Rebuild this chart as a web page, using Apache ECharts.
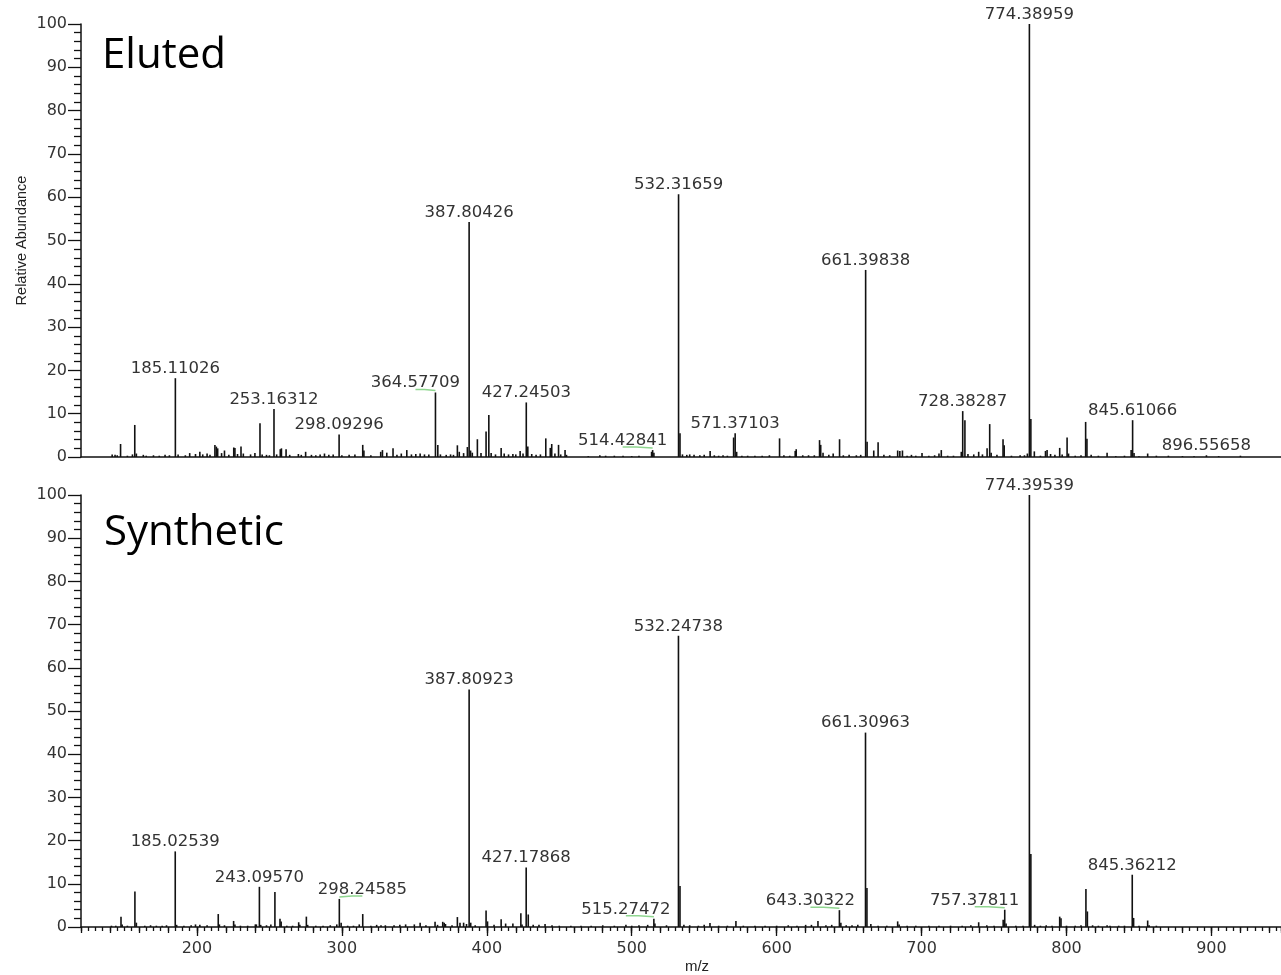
<!DOCTYPE html>
<html>
<head>
<meta charset="utf-8">
<script src="https://cdn.jsdelivr.net/npm/echarts@6/dist/echarts.min.js"></script>
<style>
html,body{margin:0;padding:0;background:#fff;}
#chart{width:1281px;height:975px;}
</style>
</head>
<body>
<div id="chart"></div>
<script>
// ---------------- DATA ----------------
const panelTitles = ['Eluted', 'Synthetic'];
const xTickLabels = [200, 300, 400, 500, 600, 700, 800, 900];
const yTickLabels = [0, 10, 20, 30, 40, 50, 60, 70, 80, 90, 100];

const elutedMz = [141.5,143.5,145,147.3,152,155.5,157.1,158.2,163,165,170,174,178,181,185.11026,187,192,195,199,202,204,207,209,212.4,213.4,214.3,217,219,222,225.4,226.2,228,230.4,232,237,240,243.5,245,248,250,253.16312,255,257.5,258.3,261.5,264,270,272,275,279,282,285,288,291,294,298.09296,300,305,309,314.4,315.2,320,326.8,328,331,335.3,338,341,344.8,348,351,354,357,360,364.57709,366.2,368,372,375,377,379.7,381,384,386.6,387.80426,388.8,390,393.5,396,399.5,401.4,403,406,409.9,412,415,418,420,423,425,427.24503,428.3,431,434,437,440.7,443.8,444.8,447,449.5,451,454,455,470,478,482,488,494,500,505,513.7,514.42841,515.3,532.31659,533.3,535,538,540,543,547,550,554.1,557,560,563,566,570.3,571.37103,572.4,576,580,585,590,595,602,605,609,612.8,613.5,618,622,626,629.6,630.4,632,636,639,643.4,646,650,655,658,661.39838,662.4,667,670,674,678,683.5,685,686.8,690,693,696,700.3,705,709,712,713.6,718,722,727.4,728.38287,729.9,732,736,739.4,742,745.2,747,748,752,756.2,757,762,768,771,773,774.38959,775.4,777.8,782,785.5,786.6,789,792,795.3,797,800.4,801.4,806,810,813.2,814.1,817,822,828,834,840,844.6,845.61066,846.6,850,856,862,870.3,880,888,896.55658,905,920];
const elutedInt = [0.6,0.5,0.4,3.0,0.3,0.6,7.4,0.8,0.5,0.3,0.4,0.3,0.5,0.4,18.2,0.6,0.4,0.9,0.7,1.2,0.6,0.8,0.5,2.8,2.4,2.0,0.9,1.5,0.5,2.2,2.1,0.7,2.4,0.8,0.6,0.9,7.8,0.6,0.5,0.4,11.1,0.6,1.8,2.0,1.8,0.5,0.7,0.5,1.2,0.5,0.4,0.6,0.8,0.5,0.6,5.2,0.4,0.5,0.6,2.8,1.5,0.4,1.2,1.6,1.0,2.0,0.5,0.8,1.6,0.6,0.7,0.8,0.6,0.6,14.9,2.8,0.6,0.5,0.6,0.5,2.7,1.2,0.9,2.3,54.3,1.5,1.0,4.1,0.9,5.9,9.7,0.9,0.6,2.1,0.8,0.6,0.7,0.6,1.4,0.8,12.6,2.4,0.7,0.5,0.6,4.3,2.1,3.0,0.8,2.8,0.6,1.6,0.5,0.2,0.4,0.3,0.3,0.3,0.2,0.3,1.2,1.6,1.0,60.7,5.5,0.6,0.5,0.6,0.5,0.4,0.5,1.4,0.4,0.3,0.4,0.3,4.5,5.5,1.2,0.3,0.3,0.3,0.3,0.4,4.3,0.4,0.3,1.4,1.8,0.4,0.4,0.4,3.9,2.8,1.0,0.5,0.8,4.1,0.4,0.5,0.4,0.5,43.2,3.5,1.5,3.4,0.5,0.4,1.5,1.4,1.5,0.3,0.5,0.3,0.9,0.3,0.4,0.8,1.6,0.3,0.3,1.2,10.6,8.5,0.7,0.6,1.2,0.6,2.0,7.6,1.0,0.5,4.1,2.7,0.3,0.4,0.4,0.8,100,8.8,1.3,0.3,1.4,1.6,0.7,0.5,2.1,0.6,4.5,0.8,0.3,0.4,8.1,4.2,0.5,0.3,1.0,0.2,0.3,1.6,8.5,0.9,0.2,0.8,0.3,0.3,0.2,0.2,0.4,0.2,0.3];
const elutedLabels = ['185.11026','253.16312','298.09296','364.57709','387.80426','427.24503','514.42841','532.31659','571.37103','661.39838','728.38287','774.38959','845.61066','896.55658'];

const synthMz = [141,144,147.6,148.4,152,157.2,158.2,164,168,172,176,179,185.02539,186,191,196,199,202,207,214.7,215.5,219,225.3,226.2,230,235,240.3,241,243.0957,244,248,251,253.8,257.3,258.1,262,266,270.2,271,275.5,276.4,282,287,292,296.5,298.24585,299.5,304,308,312,314.4,320,324,327,330,336,340,344,350,354,358,364.3,366,369.6,370.6,371.5,376,379.7,381.5,384,386,387.80923,388.9,392,399.5,400.5,405,409.9,413,418,423.5,424.3,427.17868,428.6,432,436,440.2,445,450,458,465,472,480,488,496,500,505,511,515.27472,516,524,532.24738,533.3,536,540,546,550,554,560,566,571.9,577,585,592,600,608,614,620,624,628.5,634,638,643.30322,644.3,648,652,656,661.30963,662.3,665,670,676,683.5,684.5,690,696,705,712,720,728,734,739.4,745,750,756.3,757.37811,758.3,765,770,774.39539,775.4,778,782,786,790,795.3,796.2,800,806,810,813.4,814.4,818,822,828,830,836,840,845.36212,846.3,850,856,857,862];
const synthInt = [0.3,0.3,2.4,0.6,0.3,8.2,1.0,0.3,0.4,0.3,0.3,0.4,17.5,0.5,0.3,0.4,0.6,0.5,0.4,3.0,0.6,0.4,1.4,0.6,0.3,0.3,0.6,0.6,9.3,0.5,0.4,0.6,8.1,1.9,1.3,0.3,0.3,1.1,0.5,2.4,0.5,0.3,0.3,0.4,0.6,6.5,1.0,0.3,0.3,0.6,3.0,0.3,0.5,0.4,0.4,0.4,0.5,0.6,0.6,1.0,0.4,1.2,0.5,1.2,1.0,0.7,0.4,2.3,1.0,1.0,0.7,55,1.0,0.4,3.8,1.3,0.5,1.8,0.8,0.8,3.2,0.6,13.8,2.9,0.5,0.5,0.7,0.4,0.3,0.3,0.3,0.3,0.4,0.3,0.5,0.3,0.4,0.5,1.9,0.8,0.4,67.4,9.5,0.5,0.4,0.3,0.5,0.9,0.3,0.3,1.4,0.3,0.3,0.3,0.3,0.4,0.3,0.5,0.5,1.4,0.4,0.5,3.9,1.0,0.4,0.4,0.5,45,9.0,0.7,0.3,0.3,1.3,0.6,0.3,0.3,0.3,0.3,0.3,0.3,0.4,1.1,0.4,0.3,1.7,4.0,0.8,0.3,0.3,100,16.9,0.5,0.3,0.4,0.3,2.4,2.0,0.3,0.3,0.4,8.8,3.6,0.4,0.3,0.4,0.3,0.3,0.3,12.1,2.1,0.3,1.5,0.4,0.3];
const synthLabels = ['185.02539','243.09570','298.24585','387.80923','427.17868','515.27472','532.24738','643.30322','661.30963','757.37811','774.39539','845.36212'];

// ---------------- STYLE ----------------
// horizontal label shift (px) for labels that sit beside their peak, joined by a green leader
const labelShift = {'364.57709': -20, '514.42841': -30, '298.24585': 23, '515.27472': -28, '643.30322': -29, '757.37811': -30};
const tickFont = 'DejaVu Sans';
const textColor = '#333';
const X_MIN = 120, X_MAX = 948;

function buildData(mz, inten, labels) {
  return mz.map((m, i) => {
    const lab = labels.find(l => Math.abs(parseFloat(l) - m) < 1e-6) || '';
    return [m, inten[i], lab];
  });
}

function renderPeak(params, api, labelsList) {
  const m = api.value(0), h = api.value(1);
  const lab = labelsList[params.dataIndex];
  const p0 = api.coord([m, 0]);
  const p1 = api.coord([m, h]);
  const children = [{
    type: 'line',
    shape: {x1: p0[0], y1: p0[1], x2: p1[0], y2: p1[1]},
    style: {stroke: '#111', lineWidth: 1.6}
  }];
  if (lab) {
    const dx = labelShift[lab] || 0;
    if (dx) {
      children.push({
        type: 'polyline',
        shape: {points: [[p1[0], p1[1] - 2], [p1[0] + dx * 0.55, p1[1] - 3], [p1[0] + dx, p1[1] - 3]]},
        style: {stroke: '#8fd68f', lineWidth: 1.5, fill: null}
      });
    }
    children.push({
      type: 'text',
      x: p1[0] + dx, y: p1[1] - 1,
      style: {text: lab, fill: textColor, font: '16.5px "' + tickFont + '"', align: 'center', verticalAlign: 'bottom'}
    });
  }
  return {type: 'group', children: children};
}

function makeSeries(data, idx) {
  const labelsList = data.map(d => d[2]);
  return {
    type: 'custom',
    xAxisIndex: idx === 0 ? 0 : 1,
    yAxisIndex: idx,
    clip: false,
    data: data.map(d => [d[0], d[1]]),
    renderItem: function (params, api) {
      return renderPeak(params, api, labelsList);
    },
    silent: true,
    animation: false
  };
}

const elutedData = buildData(elutedMz, elutedInt, elutedLabels);
const synthData = buildData(synthMz, synthInt, synthLabels);

const axisLineStyle = {show: true, lineStyle: {color: '#111', width: 1.5}};

function yAxisFor(gridIndex, withName) {
  const ax = {
    type: 'value', gridIndex: gridIndex, min: 0, max: 100, interval: 10,
    axisLine: axisLineStyle,
    axisTick: {show: true, length: 13, lineStyle: {color: '#111', width: 1.3}},
    minorTick: {show: true, splitNumber: 5, length: 7, lineStyle: {color: '#111', width: 1.3}},
    splitLine: {show: false}, minorSplitLine: {show: false},
    axisLabel: {
      margin: 14, color: textColor, fontFamily: tickFont, fontSize: 16,
      customValues: yTickLabels
    }
  };
  if (withName) {
    ax.name = 'Relative Abundance';
    ax.nameLocation = 'middle';
    ax.nameGap = 52;
    ax.nameMoveOverlap = false;
    ax.nameRotate = 90;
    ax.nameTextStyle = {fontFamily: 'Liberation Sans', fontSize: 14.5, color: '#222'};
  }
  return ax;
}

const option = {
  backgroundColor: '#fff',
  animation: false,
  title: [
    {text: panelTitles[0], left: 97, top: 30, textStyle: {fontFamily: 'Open Sans', fontSize: 42, fontWeight: 'normal', color: '#000'}},
    {text: panelTitles[1], left: 99, top: 507, textStyle: {fontFamily: 'Open Sans', fontSize: 42, fontWeight: 'normal', color: '#000'}}
  ],
  grid: [
    {left: 81, right: 0, top: 24, height: 433},
    {left: 81, right: 0, top: 495, height: 433}
  ],
  xAxis: [
    {type: 'value', gridIndex: 0, min: X_MIN, max: X_MAX, axisLine: axisLineStyle,
      axisTick: {show: false}, axisLabel: {show: false}, splitLine: {show: false}},
    {type: 'value', gridIndex: 1, min: X_MIN, max: X_MAX, axisLine: axisLineStyle,
      axisTick: {show: true, length: 9, customValues: xTickLabels, lineStyle: {color: '#111', width: 1.3}},
      axisLabel: {show: true, customValues: xTickLabels, margin: 14, color: textColor, fontFamily: tickFont, fontSize: 16},
      splitLine: {show: false},
      name: 'm/z', nameLocation: 'middle', nameGap: 32,
      nameTextStyle: {fontFamily: 'Liberation Sans', fontSize: 15, color: '#222', padding: [0, 0, 0, 32]}},
    {type: 'value', gridIndex: 1, min: X_MIN, max: X_MAX, interval: 5, position: 'bottom',
      axisLine: {show: false}, axisLabel: {show: false}, splitLine: {show: false},
      axisTick: {show: true, length: 4, lineStyle: {color: '#111', width: 1.3}}},
    {type: 'value', gridIndex: 1, min: X_MIN, max: X_MAX, interval: 20, position: 'bottom',
      axisLine: {show: false}, axisLabel: {show: false}, splitLine: {show: false},
      axisTick: {show: true, length: 6, lineStyle: {color: '#111', width: 1.3}}}
  ],
  yAxis: [yAxisFor(0, true), yAxisFor(1, false)],
  series: [makeSeries(elutedData, 0), makeSeries(synthData, 1)]
};

const chart = echarts.init(document.getElementById('chart'), null, {renderer: 'canvas'});
chart.setOption(option);
</script>
</body>
</html>
